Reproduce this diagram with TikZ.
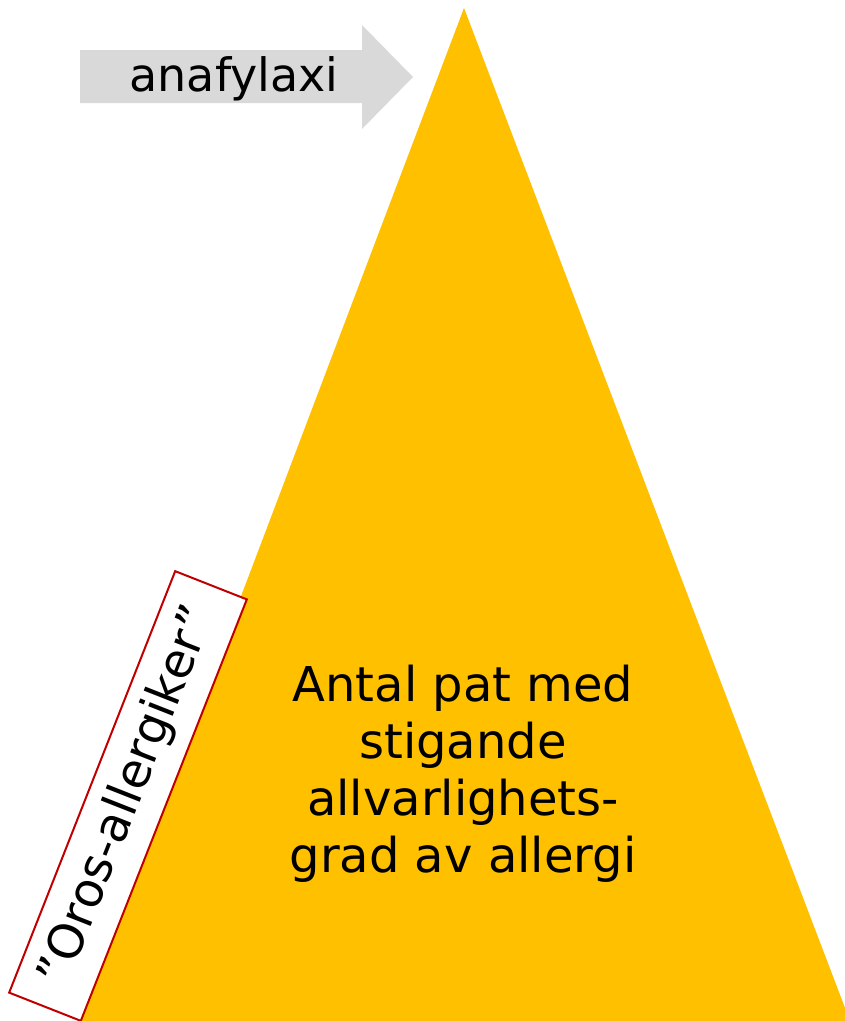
\documentclass[tikz,border=0pt]{standalone}
\usepackage{fontspec}
\setmainfont{DejaVu Sans}
\usepackage{tikz}
\usetikzlibrary{positioning,calc}
\usepackage{xcolor}
\definecolor{gold}{HTML}{FFC000}
\definecolor{arrowgray}{HTML}{D9D9D9}
\definecolor{boxred}{HTML}{C00000}

\begin{document}
\begin{tikzpicture}[x=1pt,y=-1pt,
  label text/.style={inner sep=0pt,font=\fontsize{46}{54}\selectfont},
  main text/.style={inner sep=0pt,align=center,font=\fontsize{48}{57}\selectfont},
  tag box/.style={draw=boxred,line width=2pt,fill=white,minimum width=453,minimum height=77,inner sep=0pt,font=\fontsize{48}{56}\selectfont}
]
  \useasboundingbox (0,0) rectangle (845,1021);
  \clip (0,0) rectangle (845,1021);
  \coordinate (apex) at (464,8);
  \fill[gold] (80,1021) -- (apex) -- (850,1021) -- cycle;
  \fill[arrowgray] (80,50) -- (362,50) -- (362,25) -- (413,77) -- (362,129) -- (362,103) -- (80,103) -- cycle;
  \node[label text] (anaph) at (234,79) {anafylaxi};
  \node[main text] (count) at (463,774) {Antal pat med\\stigande\\allvarlighets-\\grad av allergi};
  \node[tag box,rotate=68.5] (oros) at (128,796) {”Oros-allergiker”};
\end{tikzpicture}
\end{document}
